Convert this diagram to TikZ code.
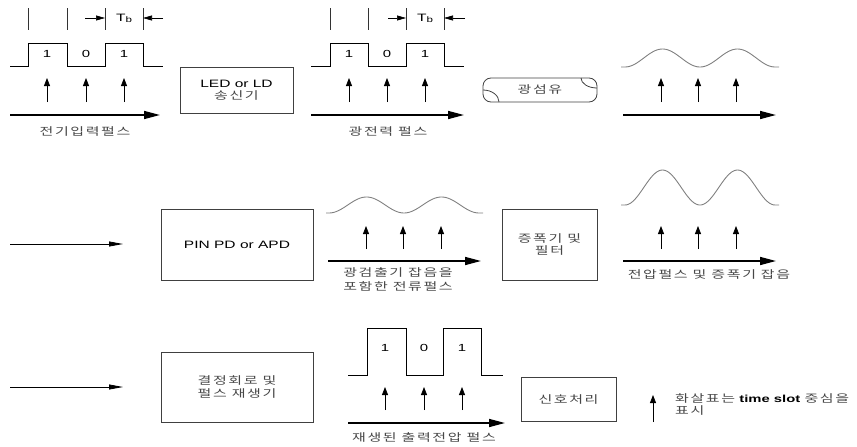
\documentclass[tikz,border=0pt]{standalone}
\usepackage{fontspec}
\setmainfont{Liberation Sans}[FakeStretch=1.45]
\newfontfamily\krfont{Noto Sans CJK KR}[FakeStretch=1.4, LetterSpace=15]
\newcommand\ko[1]{{\color{black!72}\krfont #1}}
\usetikzlibrary{arrows.meta}

\tikzset{
  blockbox/.style={draw=black!75, line width=0.8pt, align=center, inner sep=2pt,
    font=\fontsize{10.7}{13.5}\selectfont},
  pulse/.style={line width=0.9pt, line join=miter},
  wave/.style={draw=black!50, line width=0.9pt},
  timeaxis/.style={line width=1.6pt, -{Triangle[length=16pt,width=8pt]}},
  slotarrow/.style={line width=0.8pt, -{Triangle[length=8pt,width=6pt]}},
  linkarrow/.style={line width=0.8pt, -{Triangle[length=14pt,width=5pt]}},
  slottick/.style={line width=0.6pt, draw=black!80},
  tbarrow/.style={line width=0.6pt, -{Triangle[length=9pt,width=5pt]}},
  lbl/.style={inner sep=0pt, align=center, font=\fontsize{10.7}{14}\selectfont},
  digit/.style={inner sep=0pt, font=\fontsize{10.3}{10}\selectfont},
}

\begin{document}
\begin{tikzpicture}[x=1pt, y=-1pt]
\useasboundingbox (0,0) rectangle (857,447);

% ---------- top row: electrical input pulses ----------
\draw[pulse] (10,66) -- (28,66) -- (28,43) -- (67,43) -- (67,66) -- (105,66)
  -- (105,43) -- (143,43) -- (143,66) -- (163,66);
\foreach \x in {28,67,105,143} \draw[slottick] (\x,8) -- (\x,30);
\node[digit] (d11) at (47,54) {1};
\node[digit] (d12) at (86,54) {0};
\node[digit] (d13) at (124,54) {1};
\node[inner sep=0pt, font=\fontsize{10.7}{10}\selectfont] (tb1) at (124,18) {T\raisebox{-1pt}{\fontsize{8}{8}\selectfont b}};
\coordinate (tb1l) at (85,18);  \coordinate (tb1lt) at (105,18);
\coordinate (tb1r) at (163,18); \coordinate (tb1rt) at (143,18);
\draw[tbarrow] (tb1l) -- (tb1lt);
\draw[tbarrow] (tb1r) -- (tb1rt);
\node[lbl] (in-lbl) at (85,131) {\ko{전기입력펄스}};

\node[blockbox, minimum width=113pt, minimum height=46pt] (led) at (236.5,90)
  {LED or LD\\[-1.5pt]\ko{송신기}};

% ---------- top row: optical power pulses ----------
\draw[pulse] (311,66) -- (330,66) -- (330,43) -- (368,43) -- (368,66) -- (406,66)
  -- (406,43) -- (444,43) -- (444,66) -- (464,66);
\foreach \x in {330,368,406,444} \draw[slottick] (\x,8) -- (\x,30);
\node[digit] (d21) at (349,54) {1};
\node[digit] (d22) at (387,54) {0};
\node[digit] (d23) at (425,54) {1};
\node[inner sep=0pt, font=\fontsize{10.7}{10}\selectfont] (tb2) at (425,18) {T\raisebox{-1pt}{\fontsize{8}{8}\selectfont b}};
\coordinate (tb2l) at (388,18); \coordinate (tb2lt) at (406,18);
\coordinate (tb2r) at (465,18); \coordinate (tb2rt) at (444,18);
\draw[tbarrow] (tb2l) -- (tb2lt);
\draw[tbarrow] (tb2r) -- (tb2rt);
\node[lbl] (opt-lbl) at (388,131) {\ko{광전력 펄스}};

% ---------- optical fibre ----------
\draw[draw=black!75, line width=0.8pt, rounded corners=8pt] (483,78) rectangle (597,102);
\draw[draw=black!75, line width=0.8pt] (483,90) .. controls (491.8,90) and (499,95.4) .. (499,102);
\draw[draw=black!75, line width=0.8pt] (581,78) .. controls (581,83.5) and (588.2,88) .. (597,88);
\node[lbl] (fibre) at (540,89.5) {\ko{광섬유}};

% ---------- top row: received optical pulses ----------
\draw[wave] (621,67) -- (625,67) -- plot[domain=0:150, samples=90]
  ({625+\x}, {67-18*(1-cos(\x*4.8))/2}) -- (779,67);

% ---------- middle row ----------
\coordinate (m-in0) at (10,244);
\node[blockbox, minimum width=152pt, minimum height=71pt] (pin) at (237,244.5) {PIN PD or APD};
\coordinate (m-in1) at (123,244);
\draw[linkarrow] (m-in0) -- (m-in1);

\draw[wave] (326,213) -- (329,213) -- plot[domain=0:150, samples=90]
  ({329+\x}, {213-16*(1-cos(\x*4.8))/2}) -- (483,213);
\node[lbl] (cur-lbl) at (398,279) {\ko{광검출기 잡음을}\\\ko{포함한 전류펄스}};

\node[blockbox, minimum width=95pt, minimum height=71pt] (amp) at (549.5,244.5)
  {\ko{증폭기 및}\\[-2pt]\ko{필터}};

\draw[wave] (621,205) -- (625,205) -- plot[domain=0:150, samples=90]
  ({625+\x}, {205-35*(1-cos(\x*4.8))/2}) -- (779,205);
\node[lbl] (volt-lbl) at (709,274) {\ko{전압펄스 및 증폭기 잡음}};

% ---------- bottom row ----------
\coordinate (b-in0) at (10,387);
\node[blockbox, minimum width=152pt, minimum height=70pt] (dec) at (237,387)
  {\ko{결정회로 및}\\\ko{펄스 재생기}};
\coordinate (b-in1) at (123,387);
\draw[linkarrow] (b-in0) -- (b-in1);

\draw[pulse] (348,375) -- (367,375) -- (367,328) -- (406,328) -- (406,375) -- (443,375)
  -- (443,328) -- (481,328) -- (481,375) -- (503,375);
\node[digit] (d31) at (385,348) {1};
\node[digit] (d32) at (424,348) {0};
\node[digit] (d33) at (462,348) {1};
\node[lbl] (out-lbl) at (424,437.5) {\ko{재생된 출력전압 펄스}};

\node[blockbox, minimum width=95pt, minimum height=44pt] (sig) at (568.5,399) {\ko{신호처리}};

\node[lbl, align=left, anchor=north west, font=\fontsize{10.7}{12.5}\selectfont] (legend) at (675,393)
  {\ko{화살표는} {\bfseries\fontsize{10.2}{12.5}\selectfont time slot} \ko{중심을}\\\ko{표시}};

% ---------- time axes ----------
\foreach \n/\xa/\xb/\y in {ax1/10/160/115, ax2/311/464/115, ax3/623/776/115,
                           ax4/328/481/261, ax5/623/776/261, ax6/348/505/423} {
  \coordinate (\n-s) at (\xa,\y);
  \coordinate (\n-e) at (\xb,\y);
  \draw[timeaxis] (\n-s) -- (\n-e);
}

% ---------- time-slot centre markers ----------
\foreach \n/\x/\yb/\yt in {s1/47/102/78, s2/86/102/78, s3/124/102/78,
                           s4/349/102/78, s5/387/102/78, s6/425/102/78,
                           s7/661/102/78, s8/698/102/78, s9/736/102/78,
                           s10/366/249/226, s11/403/249/226, s12/441/249/226,
                           s13/661/249/226, s14/698/249/226, s15/736/249/226,
                           s16/385/410/387, s17/424/410/387, s18/462/410/387,
                           s19/653/422/395} {
  \coordinate (\n-b) at (\x,\yb);
  \coordinate (\n-t) at (\x,\yt);
  \draw[slotarrow] (\n-b) -- (\n-t);
}
\end{tikzpicture}
\end{document}
